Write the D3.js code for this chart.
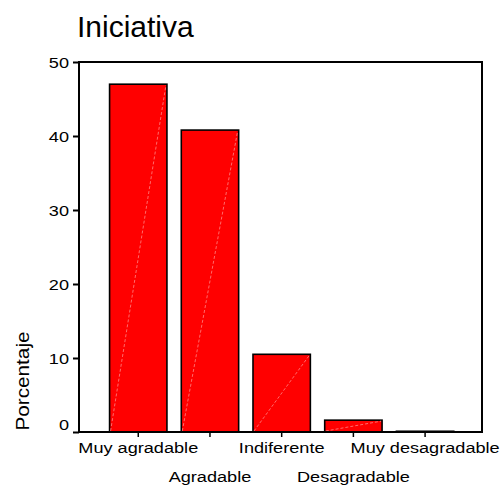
<!DOCTYPE html>
<html>
<head>
<meta charset="utf-8">
<script src="https://cdn.jsdelivr.net/npm/d3@7"></script>
<style>
  body { margin: 0; background: #fff; }
  svg text { font-family: "Liberation Sans", Arial, sans-serif; fill: #000; }
</style>
</head>
<body>
<svg id="chart" width="500" height="485"></svg>
<script>
// Categories and percentages
const categories = ["Muy agradable", "Agradable", "Indiferente", "Desagradable", "Muy desagradable"];
const percentages = [47.0, 40.8, 10.5, 1.6, 0.1];
const yTicks = [0, 10, 20, 30, 40, 50];
const title = "Iniciativa";
const yTitle = "Porcentaje";

const svg = d3.select("#chart");
const plotLeft = 79, plotRight = 482, plotTop = 62, plotBottom = 432;
const labelSize = 15.5, labelStretch = 1.17;

const x = d3.scaleBand()
  .domain(categories)
  .range([plotLeft, plotRight])
  .paddingInner(0.2)
  .paddingOuter(0.41)
  .align(0.52);

const y = d3.scaleLinear().domain([0, 50]).range([plotBottom, plotTop]);

// Bars
const data = categories.map((c, i) => ({ c, v: percentages[i] }));
const bars = svg.append("g");
bars.selectAll("rect")
  .data(data)
  .join("rect")
  .attr("x", d => x(d.c))
  .attr("y", d => y(d.v))
  .attr("width", x.bandwidth())
  .attr("height", d => y(0) - y(d.v))
  .attr("fill", "#ff0000")
  .attr("stroke", "#000")
  .attr("stroke-width", 1.6);

// faint diagonal seam inside each bar
bars.selectAll("line")
  .data(data.filter(d => d.v > 0.5))
  .join("line")
  .attr("x1", d => x(d.c) + 1)
  .attr("y1", y(0) - 1)
  .attr("x2", d => x(d.c) + x.bandwidth() - 1)
  .attr("y2", d => y(d.v) + 1)
  .attr("stroke", "#ff9a9a")
  .attr("stroke-width", 0.7)
  .attr("stroke-dasharray", "3,2");

// Frame
svg.append("rect")
  .attr("x", plotLeft).attr("y", plotTop)
  .attr("width", plotRight - plotLeft).attr("height", plotBottom - plotTop)
  .attr("fill", "none")
  .attr("stroke", "#000")
  .attr("stroke-width", 2);

// Y axis
const yAxis = svg.append("g")
  .attr("transform", `translate(${plotLeft},0)`)
  .call(d3.axisLeft(y).tickValues(yTicks).tickSize(6).tickPadding(4).tickFormat(d3.format("d")));
yAxis.select(".domain").remove();
yAxis.selectAll(".tick line").attr("stroke", "#000").attr("stroke-width", 2);
yAxis.selectAll(".tick text")
  .attr("font-size", labelSize)
  .attr("font-family", "Liberation Sans, Arial, sans-serif")
  .attr("x", -10 / labelStretch)
  .attr("transform", `scale(${labelStretch},1)`)
  .attr("dy", d => d === 0 ? "-0.15em" : "0.35em");

// X axis with alternating label rows
const xAxis = svg.append("g")
  .attr("transform", `translate(0,${plotBottom})`)
  .call(d3.axisBottom(x).tickSize(5).tickPadding(4));
xAxis.select(".domain").remove();
xAxis.selectAll(".tick line").attr("stroke", "#000").attr("stroke-width", 1.5);
xAxis.selectAll(".tick text")
  .attr("font-size", labelSize)
  .attr("font-family", "Liberation Sans, Arial, sans-serif")
  .attr("transform", `scale(${labelStretch},1)`)
  .attr("y", (d, i) => i % 2 === 0 ? 10.5 : 39)
  .attr("dy", "0.71em");

// Title
svg.append("text")
  .attr("x", 77).attr("y", 37)
  .attr("font-size", 30)
  .text(title);

// Y axis title
svg.append("text")
  .attr("transform", "translate(28.5,381) rotate(-90) scale(1.12,1)")
  .attr("text-anchor", "middle")
  .attr("font-size", 18.5)
  .text(yTitle);
</script>
</body>
</html>
